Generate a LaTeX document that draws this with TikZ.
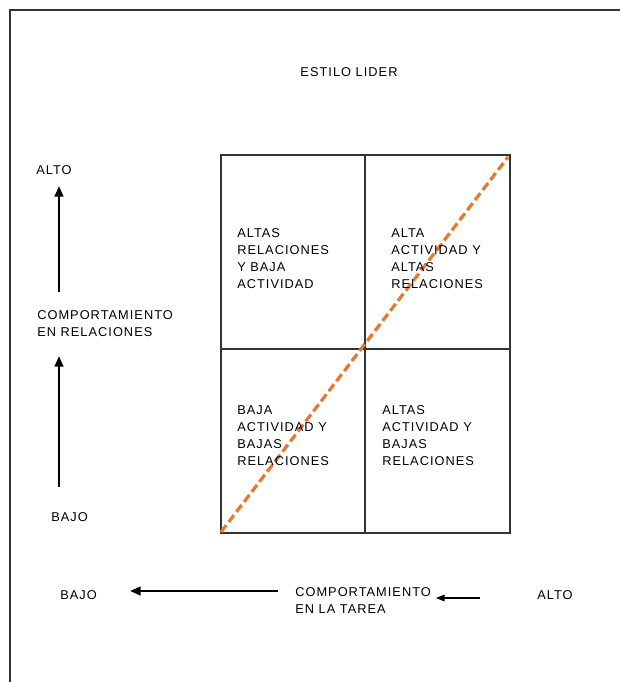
\documentclass[tikz,border=0pt]{standalone}
\usepackage{fontspec}
\setmainfont{Liberation Sans}[LetterSpace=8]
\usetikzlibrary{arrows.meta}
\definecolor{gridline}{HTML}{333333}
\definecolor{diag}{HTML}{E8782F}
\begin{document}
\begin{tikzpicture}[x=0.75pt,y=-0.75pt,
  lbl/.style={font=\fontsize{9.6}{12.75}\selectfont, inner sep=0pt, align=left, anchor=west},
  axisarrow/.style={line width=1.7pt, -{Triangle[length=8pt,width=6.5pt]}},
  thinarrow/.style={line width=1.1pt, -{Triangle[length=6.5pt,width=5pt]}},
  cell/.style={draw=gridline, line width=1pt}]
\useasboundingbox (0,0) rectangle (620,682);
\fill[white] (0,0) rectangle (620,682);
% frame edges
\draw[gridline, line width=1.2pt] (10,682) -- (10,10) -- (620,10);

% title
\node[lbl, anchor=center] (title) at (349,72) {ESTILO LIDER};

% 2x2 grid
\coordinate (tl) at (221,155);
\coordinate (br) at (510,533);
\draw[cell] (tl) rectangle (br);
\draw[cell] (365,155) -- (365,533);
\draw[cell] (221,349) -- (510,349);

% diagonal
\coordinate (d0) at (221,532);
\coordinate (d1) at (508,157);
\draw[diag, line width=2.4pt, dash pattern=on 6.5pt off 3pt] (d0) -- (d1);

% quadrant labels
\node[lbl] (q1) at (237,259) {ALTAS\\RELACIONES\\Y BAJA\\ACTIVIDAD};
\node[lbl] (q2) at (391,259) {ALTA\\ACTIVIDAD Y\\ALTAS\\RELACIONES};
\node[lbl] (q3) at (237,436) {BAJA\\ACTIVIDAD Y\\BAJAS\\RELACIONES};
\node[lbl] (q4) at (382,436) {ALTAS\\ACTIVIDAD Y\\BAJAS\\RELACIONES};

% vertical axis
\node[lbl] (yhigh) at (36,170) {ALTO};
\node[lbl] (yname) at (37,323.5) {COMPORTAMIENTO\\EN RELACIONES};
\node[lbl] (ylow) at (51,517) {BAJO};
\coordinate (ya0) at (59,292);
\coordinate (ya1) at (59,186);
\coordinate (yb0) at (59,487);
\coordinate (yb1) at (59,356);
\draw[axisarrow] (ya0) -- (ya1);
\draw[axisarrow] (yb0) -- (yb1);

% horizontal axis
\node[lbl] (xlow) at (60,595) {BAJO};
\node[lbl] (xname) at (295,601) {COMPORTAMIENTO\\EN LA TAREA};
\node[lbl] (xhigh) at (537,595) {ALTO};
\coordinate (xa0) at (278,591);
\coordinate (xa1) at (130,591);
\coordinate (xb0) at (480,598);
\coordinate (xb1) at (436,598);
\draw[axisarrow] (xa0) -- (xa1);
\draw[thinarrow] (xb0) -- (xb1);
\end{tikzpicture}
\end{document}
